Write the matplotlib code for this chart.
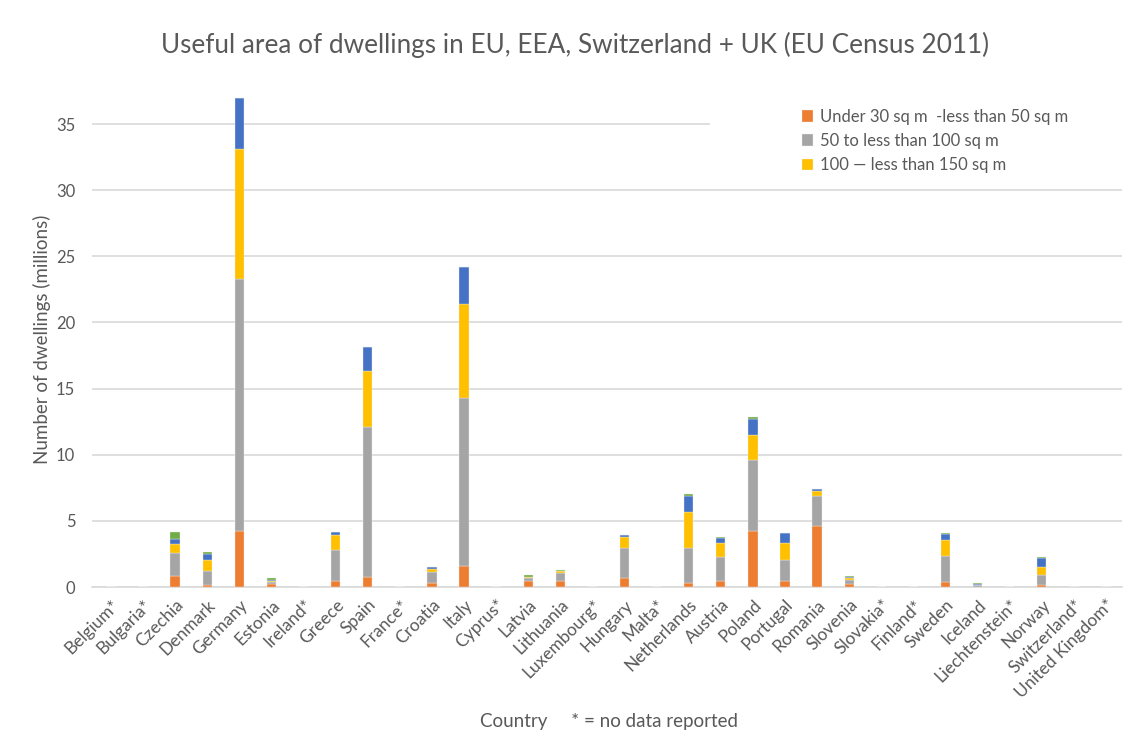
import matplotlib
matplotlib.use("Agg")
import matplotlib.pyplot as plt
from matplotlib.patches import Rectangle
import numpy as np

plt.rcParams['font.family'] = ['Lato', 'DejaVu Sans']

countries = ["Belgium*", "Bulgaria*", "Czechia", "Denmark", "Germany", "Estonia",
             "Ireland*", "Greece", "Spain", "France*", "Croatia", "Italy", "Cyprus*",
             "Latvia", "Lithuania", "Luxembourg*", "Hungary", "Malta*", "Netherlands",
             "Austria", "Poland", "Portugal", "Romania", "Slovenia", "Slovakia*",
             "Finland*", "Sweden", "Iceland", "Liechtenstein*", "Norway",
             "Switzerland*", "United Kingdom*"]

# Dwellings (millions) per useful-floor-area band
under_50 = [0, 0, 0.86, 0.12, 4.26, 0.22, 0, 0.43, 0.78, 0, 0.33, 1.61, 0,
            0.43, 0.43, 0, 0.66, 0, 0.33, 0.43, 4.26, 0.43, 4.61, 0.20, 0,
            0, 0.40, 0.02, 0, 0.18, 0, 0]
from_50_to_100 = [0, 0, 1.69, 1.11, 18.99, 0.16, 0, 2.34, 11.34, 0, 0.83, 12.69, 0,
                  0.23, 0.60, 0, 2.31, 0, 2.64, 1.86, 5.31, 1.64, 2.29, 0.33, 0,
                  0, 1.97, 0.10, 0, 0.70, 0, 0]
from_100_to_150 = [0, 0, 0.68, 0.83, 9.85, 0.10, 0, 1.13, 4.18, 0, 0.20, 7.10, 0,
                   0.06, 0.15, 0, 0.83, 0, 2.67, 1.06, 1.89, 1.28, 0.38, 0.13, 0,
                   0, 1.18, 0.02, 0, 0.61, 0, 0]
over_150 = [0, 0, 0.42, 0.43, 3.86, 0.04, 0, 0.25, 1.84, 0, 0.13, 2.79, 0,
            0.05, 0.03, 0, 0.13, 0, 1.26, 0.38, 1.26, 0.71, 0.13, 0.12, 0,
            0, 0.48, 0.05, 0, 0.68, 0, 0]
not_stated = [0, 0, 0.51, 0.16, 0.03, 0.14, 0, 0.02, 0.02, 0, 0.02, 0.02, 0,
              0.13, 0.08, 0, 0.02, 0, 0.15, 0.02, 0.15, 0.02, 0.02, 0.02, 0,
              0, 0.02, 0.12, 0, 0.10, 0, 0]

series = [
    (under_50, "#ED7D31", "Under 30 sq m  -less than 50 sq m"),
    (from_50_to_100, "#A5A5A5", "50 to less than 100 sq m"),
    (from_100_to_150, "#FFC000", "100 \u2014 less than 150 sq m"),
    (over_150, "#4472C4", None),
    (not_stated, "#70AD47", None),
]

text_col = "#595959"
grid_col = "#D9D9D9"

fig = plt.figure(figsize=(11.35, 7.32), dpi=100)
ax = fig.add_axes([92 / 1135, 145 / 732, 1030 / 1135, 496 / 732])

x = np.arange(len(countries))
bottom = np.zeros(len(countries))
handles = []
for vals, col, lab in series:
    v = np.array(vals)
    b = ax.bar(x, v, width=0.29, bottom=bottom, color=col,
               edgecolor="#F2F2F2", linewidth=0.25, zorder=3)
    if lab:
        handles.append((b, lab))
    bottom += v

ax.set_xlim(-0.59, 31.5)
ax.set_ylim(0, 37.5)
ax.set_yticks(np.arange(0, 36, 5))
ax.yaxis.grid(True, color=grid_col, linewidth=1.2, zorder=0)
ax.set_axisbelow(True)
for s in ["top", "right", "left"]:
    ax.spines[s].set_visible(False)
ax.spines["bottom"].set_color(grid_col)
ax.spines["bottom"].set_linewidth(1.2)
ax.tick_params(axis="both", length=0, colors=text_col, labelsize=12)
ax.tick_params(axis="y", pad=12)

ax.set_xticks(x)
ax.set_xticklabels(countries, rotation=45, ha="right", rotation_mode="anchor",
                   fontsize=12.5, color=text_col)
ax.tick_params(axis="x", pad=7)

ax.set_ylabel("Number of dwellings (millions)", fontsize=13.5, color=text_col,
              labelpad=4)

fig.text(0.507, 1 - 45 / 732, "Useful area of dwellings in EU, EEA, Switzerland + UK (EU Census 2011)",
         ha="center", va="center", fontsize=18.8, color=text_col)
fig.text(480 / 1135, 1 - 722 / 732, "Country     * = no data reported",
         ha="left", va="center", fontsize=13.5, color=text_col)

# White panel behind the legend
ax.add_patch(Rectangle(((710 - 92) / 1030, (587 - 175) / 496),
                       (1122 - 710) / 1030, 80 / 496, transform=ax.transAxes,
                       facecolor="white", edgecolor="none", zorder=2))

leg = ax.legend([h for h, _ in handles], [l for _, l in handles],
                loc="upper left", bbox_to_anchor=((795 - 92) / 1030, (587 - 102) / 496),
                frameon=False, fontsize=12, handlelength=0.7, handleheight=0.7,
                handletextpad=0.4, labelspacing=0.5, borderaxespad=0)
for t in leg.get_texts():
    t.set_color(text_col)

fig.savefig("out.png", dpi=100, facecolor="white")
